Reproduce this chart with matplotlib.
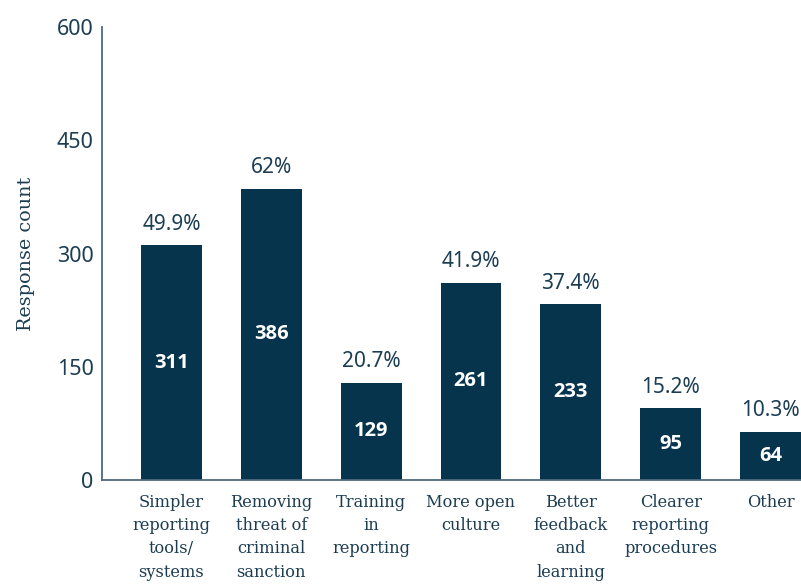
import matplotlib
matplotlib.use("Agg")
import matplotlib.pyplot as plt

categories = ["Simpler\nreporting\ntools/\nsystems", "Removing\nthreat of\ncriminal\nsanction",
              "Training\nin\nreporting", "More open\nculture", "Better\nfeedback\nand\nlearning",
              "Clearer\nreporting\nprocedures", "Other"]
counts = [311, 386, 129, 261, 233, 95, 64]
percents = ["49.9%", "62%", "20.7%", "41.9%", "37.4%", "15.2%", "10.3%"]
yticks = [0, 150, 300, 450, 600]

bar_col = "#06344d"
txt_col = "#1c3d52"
spine_col = "#4d6b80"

fig = plt.figure(figsize=(8.01, 5.85), dpi=100)
ax = fig.add_axes([102/801, 1-480/585, 1-102/801, 453/585])

x = range(len(counts))
ax.bar(x, counts, width=0.61, color=bar_col)

for i, c in enumerate(counts):
    ax.text(i, c/2, str(c), ha='center', va='center', color='white',
            fontsize=14.5, fontweight='bold', family='Open Sans')
    ax.text(i, c + 14, percents[i], ha='center', va='bottom', color=txt_col,
            fontsize=15, family='Noto Sans')

ax.set_xlim(-0.695, 6.305)
ax.set_ylim(0, 600)
ax.set_yticks(yticks)
ax.set_yticklabels([str(t) for t in yticks], family='Noto Sans', fontsize=15.5, color=txt_col)
ax.set_xticks(list(x))
ax.set_xticklabels(categories, family='DejaVu Serif', fontsize=11.7, color=txt_col,
                   linespacing=1.48, va='top')
ax.tick_params(axis='both', length=0)
ax.tick_params(axis='x', pad=10)
ax.tick_params(axis='y', pad=6)

ax.set_ylabel("Response count", family='DejaVu Serif', fontsize=13.8, color=txt_col, labelpad=16)

for s in ['top', 'right']:
    ax.spines[s].set_visible(False)
ax.spines['left'].set_color(spine_col)
ax.spines['bottom'].set_color(spine_col)
ax.spines['left'].set_linewidth(1.3)
ax.spines['bottom'].set_linewidth(1.3)

fig.savefig("out.png", dpi=100)
